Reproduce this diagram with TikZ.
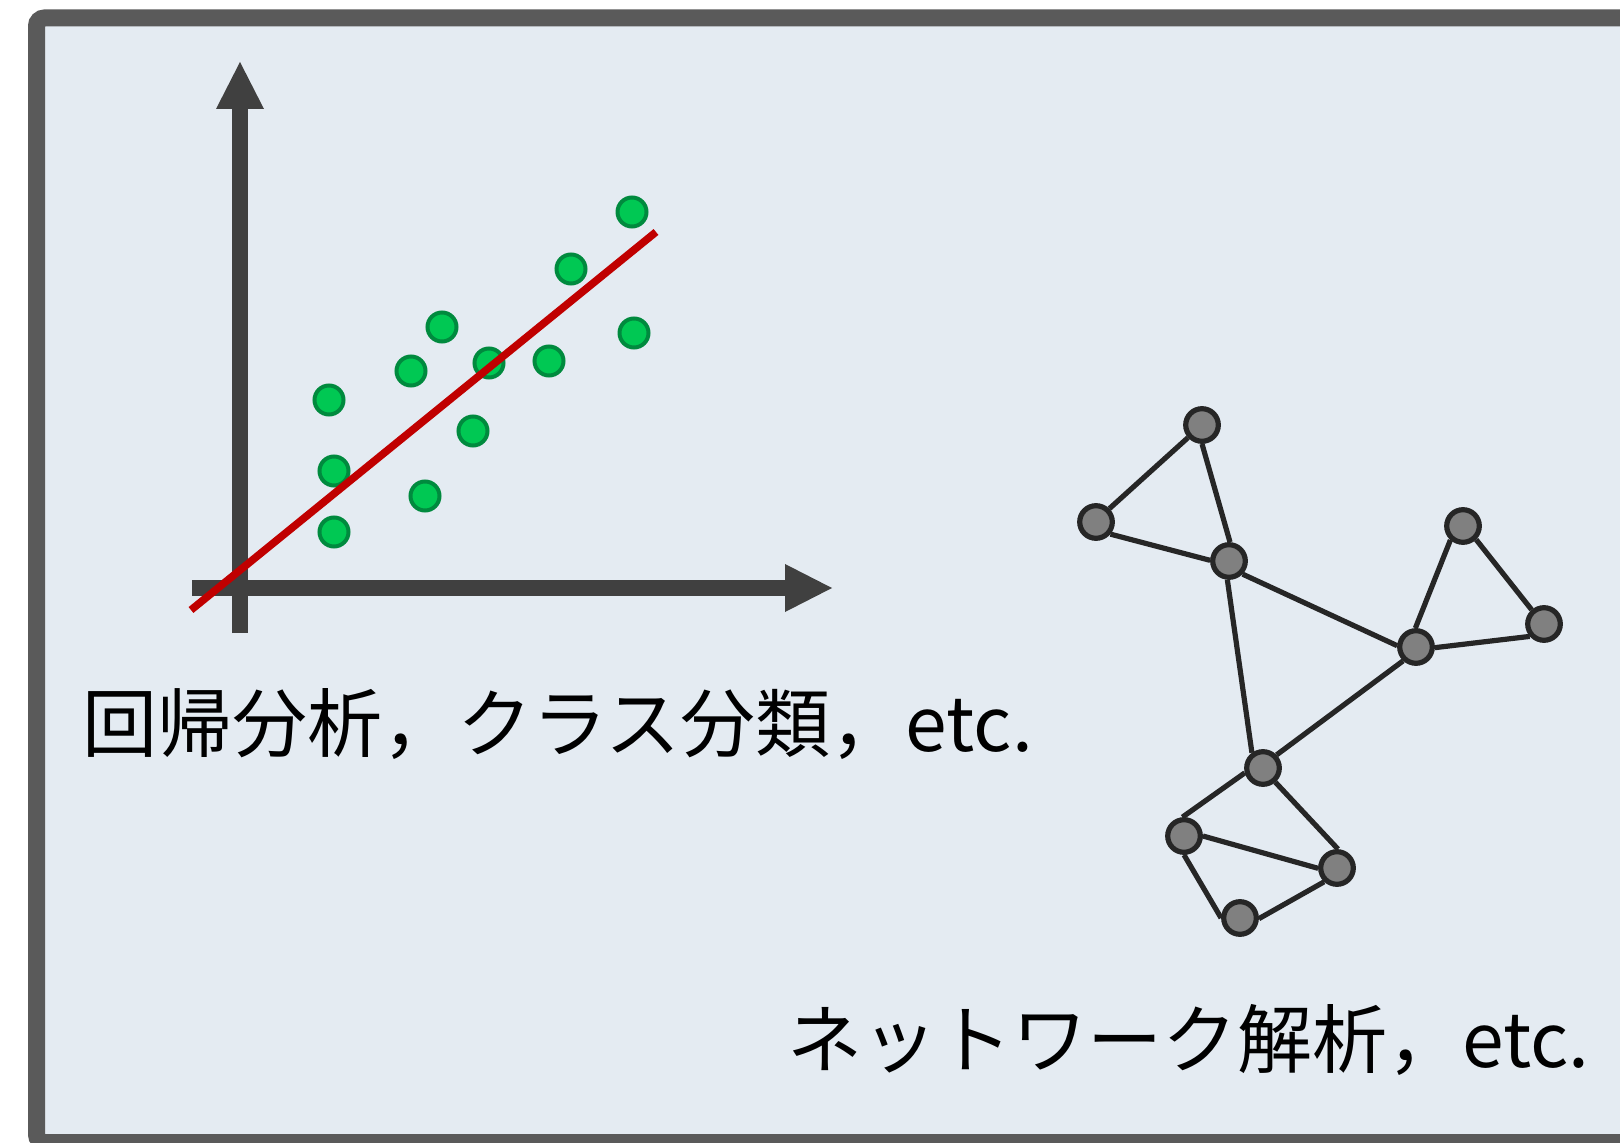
\documentclass[tikz,border=0pt]{standalone}
\usepackage{fontspec}
\setmainfont{Noto Sans CJK JP}
\usepackage{tikz}
\usetikzlibrary{arrows.meta}
\definecolor{Frame}{HTML}{5A5A5A}
\definecolor{Panel}{HTML}{E4EBF2}
\definecolor{Axis}{HTML}{404040}
\definecolor{FitRed}{HTML}{C00000}
\definecolor{DotFill}{HTML}{00C853}
\definecolor{DotEdge}{HTML}{008A3E}
\definecolor{NodeFill}{HTML}{808080}
\definecolor{NodeEdge}{HTML}{262626}

\begin{document}
\begin{tikzpicture}[x=0.5pt, y=-0.5pt,
    every node/.style={font=\fontsize{37.5}{45}\selectfont},
    dot/.style={circle, draw=DotEdge, fill=DotFill, line width=2pt, minimum size=14.5pt, inner sep=0pt},
    vertex/.style={circle, draw=NodeEdge, fill=NodeFill, line width=2.6pt, minimum size=16.3pt, inner sep=0pt},
    link/.style={NodeEdge, line width=2.6pt},
    axis/.style={Axis, line width=8pt, -{Triangle[length=23.5pt, width=24pt, line width=0pt]}}]
  \useasboundingbox (0,0) rectangle (1620,1143);
  \begin{scope}
    \clip (0,0) rectangle (1620,1143);
    \draw[Frame, fill=Panel, line width=8.5pt, rounded corners=4pt] (36.5,18) rectangle (1680,1142.5);
  \end{scope}
  % scatter plot with fitted line
  \draw[axis] (240,633) -- (240,62);
  \draw[axis] (192,588) -- (832,588);
  \foreach \px/\py [count=\i] in {632/212, 571/269, 442/327, 634/333, 411/371, 489/363,
      549/361, 329/400, 473/431, 334/471, 425/496, 334/532}
    \node[dot] (dot\i) at (\px,\py) {};
  \draw[FitRed, line width=3.8pt] (191,610) -- (656,232);
  \node[anchor=base west, inner sep=0pt] (regtext) at (82,751) {回帰分析，クラス分類，etc.};
  % network
  \foreach \name/\px/\py in {a/1202/425, b/1096/522, c/1229/561, d/1463/526, e/1544/624,
      f/1416/647, g/1263/768, h/1184/836, i/1337/868, j/1240/918}
    \node[vertex] (\name) at (\px,\py) {};
  \foreach \u/\v in {a.222/b.45, a.270/c.87, b.-40/c.178, c.-44/f.176, c.265/g.126,
      f.92/d.228, d.-46/e.131, f.-2/e.221, f.227/g.44, g.195/h.95, g.-49/i.87,
      h.0/i.181, h.270/j.180, j.-2/i.227}
    \draw[link] (\u) -- (\v);
  \node[anchor=base west, inner sep=0pt] (nettext) at (787,1067) {ネットワーク解析，etc.};
\end{tikzpicture}
\end{document}
